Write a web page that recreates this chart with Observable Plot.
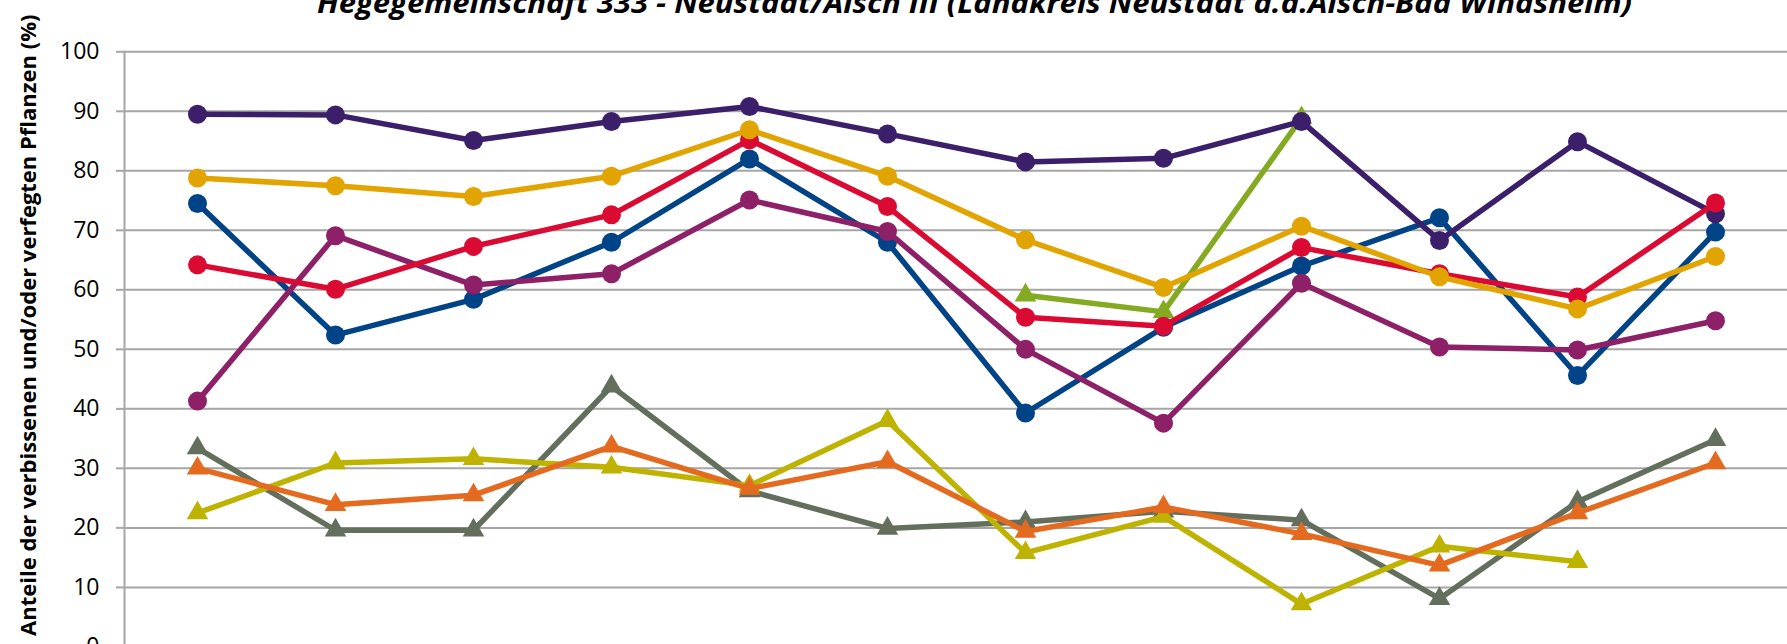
<!DOCTYPE html>
<html><head><meta charset="utf-8">
<script src="https://cdn.jsdelivr.net/npm/d3@7"></script>
<script src="https://cdn.jsdelivr.net/npm/@observablehq/plot@0.6"></script>
<style>
html,body{margin:0;padding:0;background:#fff;overflow:hidden;width:1787px;height:644px;}
#wrap{position:relative;width:1787px;height:644px;overflow:hidden;}
#chart{position:absolute;left:0;top:0;}
#title{position:absolute;left:317px;top:0;white-space:nowrap;font-family:"Open Sans";font-weight:700;font-style:italic;font-size:28px;line-height:1;color:#000;transform-origin:0 0;}
</style></head><body>
<div id="wrap"><div id="chart"></div><div id="title">Hegegemeinschaft 333 - Neustadt/Aisch III (Landkreis Neustadt a.d.Aisch-Bad Windsheim)<span id="bl" style="display:inline-block;width:0;height:0;vertical-align:baseline"></span></div></div>
<script>
const years = ["1991","1994","1997","2000","2003","2006","2009","2012","2015","2018","2021","2024"];
const yTicks = [0,10,20,30,40,50,60,70,80,90,100];
const yLabel = "Anteile der verbissenen und/oder verfegten Pflanzen (%)";

const sGray   = [33.4,19.6,19.6,43.8,26.2,19.9,21.0,22.8,21.3,8.1,24.4,34.8];
const sOlive  = [22.5,30.9,31.6,30.2,27.1,38.0,15.8,21.9,7.2,16.9,14.3,null];
const sOrange = [30.0,23.9,25.5,33.7,26.6,31.1,19.4,23.5,19.0,13.7,22.5,30.9];
const sGreen  = [null,null,null,null,null,null,59.1,56.3,88.9,null,null,null];
const sBlue   = [74.5,52.4,58.4,68.0,82.0,68.0,39.3,53.7,64.0,72.1,45.6,69.7];
const sMagenta= [41.3,69.1,60.8,62.7,75.1,69.8,50.0,37.6,61.1,50.4,49.9,54.8];
const sPurple = [89.5,89.4,85.1,88.3,90.8,86.2,81.5,82.1,88.3,68.3,84.9,72.8];
const sRed    = [64.2,60.1,67.3,72.6,85.2,74.0,55.4,53.9,67.1,62.7,58.8,74.6];
const sGold   = [78.8,77.5,75.7,79.1,86.9,79.1,68.4,60.4,70.7,62.2,56.8,65.6];

const series = [
  {values: sGray,    color: "#636f5c", symbol: "triangle"},
  {values: sOlive,   color: "#bdb300", symbol: "triangle"},
  {values: sOrange,  color: "#e46a1f", symbol: "triangle"},
  {values: sGreen,   color: "#84aa21", symbol: "triangle"},
  {values: sBlue,    color: "#004387", symbol: "circle"},
  {values: sMagenta, color: "#8e2068", symbol: "circle"},
  {values: sPurple,  color: "#3c1f6a", symbol: "circle"},
  {values: sRed,     color: "#da0a32", symbol: "circle"},
  {values: sGold,    color: "#e2a400", symbol: "circle"}
];

const seriesMarks = [];
for (const s of series) {
  const data = years.map((y, i) => ({year: y, value: s.values[i]}));
  seriesMarks.push(Plot.line(data, {x: "year", y: "value", stroke: s.color, strokeWidth: 5.5, strokeLinejoin: "round", strokeLinecap: "butt"}));
  seriesMarks.push(Plot.dot(data.filter(d => d.value != null), {x: "year", y: "value", fill: s.color, stroke: "none", symbol: s.symbol, r: s.symbol === "circle" ? 9.5 : 8}));
}

const chart = Plot.plot({
  width: 1787,
  height: 700,
  marginLeft: 124,
  marginRight: 0,
  marginTop: 51.3,
  marginBottom: 53.6,
  style: {fontFamily: "Open Sans", background: "#fff", overflow: "visible"},
  x: {type: "point", domain: years, padding: 0.5, axis: null},
  y: {domain: [0, 100], axis: null},
  marks: [
    Plot.ruleY(yTicks.filter(d => d > 0), {stroke: "#a6a6a6", strokeWidth: 2, strokeOpacity: 1}),
    Plot.axisY({ticks: yTicks, tickSize: 8, tickPadding: 17, stroke: "#a6a6a6", strokeWidth: 2, strokeOpacity: 1, fontSize: 23, fill: "#000", label: null}),
    Plot.frame({anchor: "left", stroke: "#a6a6a6", strokeWidth: 2, strokeOpacity: 1}),
    Plot.text([yLabel], {frameAnchor: "bottom-left", dx: -96, dy: -11, rotate: -90, textAnchor: "start", lineAnchor: "middle", fontSize: 22, fontWeight: "bold", fill: "#000"}),
    ...seriesMarks
  ]
});
document.getElementById("chart").appendChild(chart);

// fit title width and baseline
const t = document.getElementById("title");
const w = t.getBoundingClientRect().width;
const bl = document.getElementById("bl").getBoundingClientRect().top - t.getBoundingClientRect().top;
t.style.transform = `scaleX(${1315 / w})`;
t.style.top = (12.5 - bl) + "px";
</script>
</body></html>
